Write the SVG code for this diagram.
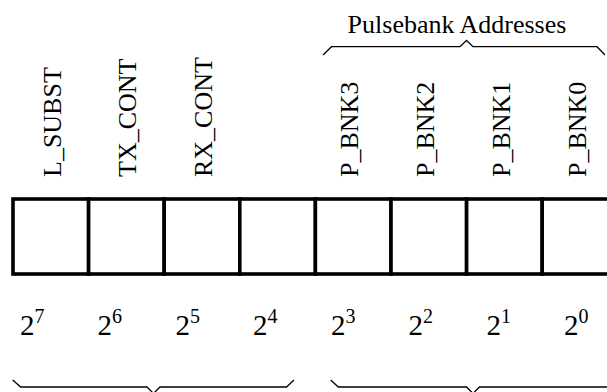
<svg xmlns="http://www.w3.org/2000/svg" width="607" height="392" viewBox="0 0 607 392">
  <style>
    text { font-family: "Liberation Serif", "Times New Roman", serif; fill: #000; }
    .lbl { font-size: 26px; }
    .pow { font-size: 29px; }
    .exp { font-size: 20px; }
    .title { font-size: 26px; }
    .brace { fill: none; stroke: #000; stroke-width: 1.3; stroke-linejoin: miter; }
    .cell { fill: #fff; stroke: #000; stroke-width: 3.6; }
  </style>
  <rect width="607" height="392" fill="#fff"/>

  <!-- register cells, bit 7 on the left -->
  <g id="bit7"><rect class="cell" x="13" y="199" width="75.6" height="75"/></g>
  <g id="bit6"><rect class="cell" x="88.6" y="199" width="75.6" height="75"/></g>
  <g id="bit5"><rect class="cell" x="164.2" y="199" width="75.6" height="75"/></g>
  <g id="bit4"><rect class="cell" x="239.8" y="199" width="75.6" height="75"/></g>
  <g id="bit3"><rect class="cell" x="315.4" y="199" width="75.6" height="75"/></g>
  <g id="bit2"><rect class="cell" x="391" y="199" width="75.6" height="75"/></g>
  <g id="bit1"><rect class="cell" x="466.6" y="199" width="75.6" height="75"/></g>
  <g id="bit0"><rect class="cell" x="542.2" y="199" width="75.6" height="75"/></g>

  <!-- field names -->
  <g id="names">
    <text class="lbl" x="60.5" y="177" transform="rotate(-90 60.5 177)">L_SUBST</text>
    <text class="lbl" x="135.5" y="177" transform="rotate(-90 135.5 177)">TX_CONT</text>
    <text class="lbl" x="212" y="177" transform="rotate(-90 212 177)">RX_CONT</text>
    <text class="lbl" x="358" y="177" transform="rotate(-90 358 177)">P_BNK3</text>
    <text class="lbl" x="434" y="177" transform="rotate(-90 434 177)">P_BNK2</text>
    <text class="lbl" x="510" y="177" transform="rotate(-90 510 177)">P_BNK1</text>
    <text class="lbl" x="586" y="177" transform="rotate(-90 586 177)">P_BNK0</text>
  </g>

  <!-- bit weights -->
  <g id="weights">
    <text class="pow" x="20" y="335">2<tspan class="exp" dy="-12">7</tspan></text>
    <text class="pow" x="97.5" y="335">2<tspan class="exp" dy="-12">6</tspan></text>
    <text class="pow" x="175.5" y="335">2<tspan class="exp" dy="-12">5</tspan></text>
    <text class="pow" x="253" y="335">2<tspan class="exp" dy="-12">4</tspan></text>
    <text class="pow" x="331" y="335">2<tspan class="exp" dy="-12">3</tspan></text>
    <text class="pow" x="408.5" y="335">2<tspan class="exp" dy="-12">2</tspan></text>
    <text class="pow" x="486.5" y="335">2<tspan class="exp" dy="-12">1</tspan></text>
    <text class="pow" x="564" y="335">2<tspan class="exp" dy="-12">0</tspan></text>
  </g>

  <!-- group braces -->
  <g id="braces">
    <text class="title" x="457" y="33" text-anchor="middle">Pulsebank Addresses</text>
    <path class="brace" d="M323,55 L331.5,46.7 L460,46.7 L466.5,40.5 L473,46.7 L597,46.7 L605,55"/>
    <path class="brace" d="M12.7,380 L20.7,387 L147,387 L153.5,393.5 L160,387 L286.5,387 L294,380"/>
    <path class="brace" d="M330.7,380 L338.3,387 L466.5,387 L473,393.5 L479.5,387 L607.7,387 L615.3,380"/>
  </g>
</svg>
